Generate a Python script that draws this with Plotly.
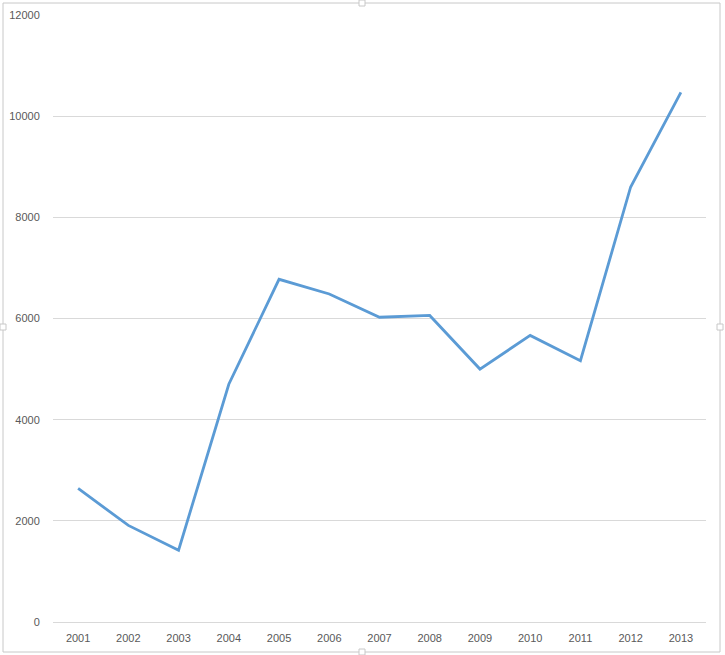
import plotly.graph_objects as go

# Values
years = ["2001", "2002", "2003", "2004", "2005", "2006", "2007",
         "2008", "2009", "2010", "2011", "2012", "2013"]
values = [2640, 1910, 1420, 4700, 6775, 6485, 6025,
          6060, 5000, 5665, 5165, 8600, 10470]
y_ticks = [0, 2000, 4000, 6000, 8000, 10000, 12000]

fig = go.Figure()
fig.add_trace(go.Scatter(
    x=years, y=values, mode="lines",
    line=dict(color="#5B9BD5", width=2.8),
    hoverinfo="x+y",
))

# plot area: x 53..706, y 15..622 in a 725x655 page
L, R, T, B = 53, 19, 15, 33
pw, ph = 725 - L - R, 655 - T - B


def px_x(v):
    return (v - L) / pw


def px_y(v):
    return (655 - B - v) / ph


shapes = [dict(type="rect", xref="paper", yref="paper",
               x0=px_x(3), x1=px_x(720), y0=px_y(652), y1=px_y(3),
               line=dict(color="#C8C8C8", width=1), layer="below")]
# little selection handles on the frame
for hx, hy in [(362, 3), (362, 652), (3, 327), (720, 327)]:
    shapes.append(dict(type="rect", xref="paper", yref="paper",
                       x0=px_x(hx - 3), x1=px_x(hx + 3),
                       y0=px_y(hy + 3), y1=px_y(hy - 3),
                       line=dict(color="#C8C8C8", width=1),
                       fillcolor="white"))

fig.update_layout(
    width=725, height=655,
    margin=dict(l=L, r=R, t=T, b=B, autoexpand=False),
    paper_bgcolor="white", plot_bgcolor="white",
    showlegend=False,
    font=dict(family="Liberation Sans", size=11, color="#595959"),
    shapes=shapes,
)
fig.update_xaxes(
    type="category", range=[-0.5, len(years) - 0.5],
    showgrid=False, zeroline=False, automargin=False,
    showline=True, linecolor="#D9D9D9", linewidth=1,
    ticks="outside", ticklen=6, tickcolor="rgba(0,0,0,0)",
)
fig.update_yaxes(
    range=[0, 12000], tickvals=y_ticks,
    ticktext=[str(v) for v in y_ticks],
    showgrid=True, gridcolor="#D9D9D9", gridwidth=1,
    zeroline=False, showline=False, automargin=False,
    ticks="outside", ticklen=10, tickcolor="rgba(0,0,0,0)",
)

# drop the page's default body margin so the figure sits at 0,0
fig.write_html("out.html", config={"displayModeBar": False},
               post_script="document.body.style.margin='0';")
